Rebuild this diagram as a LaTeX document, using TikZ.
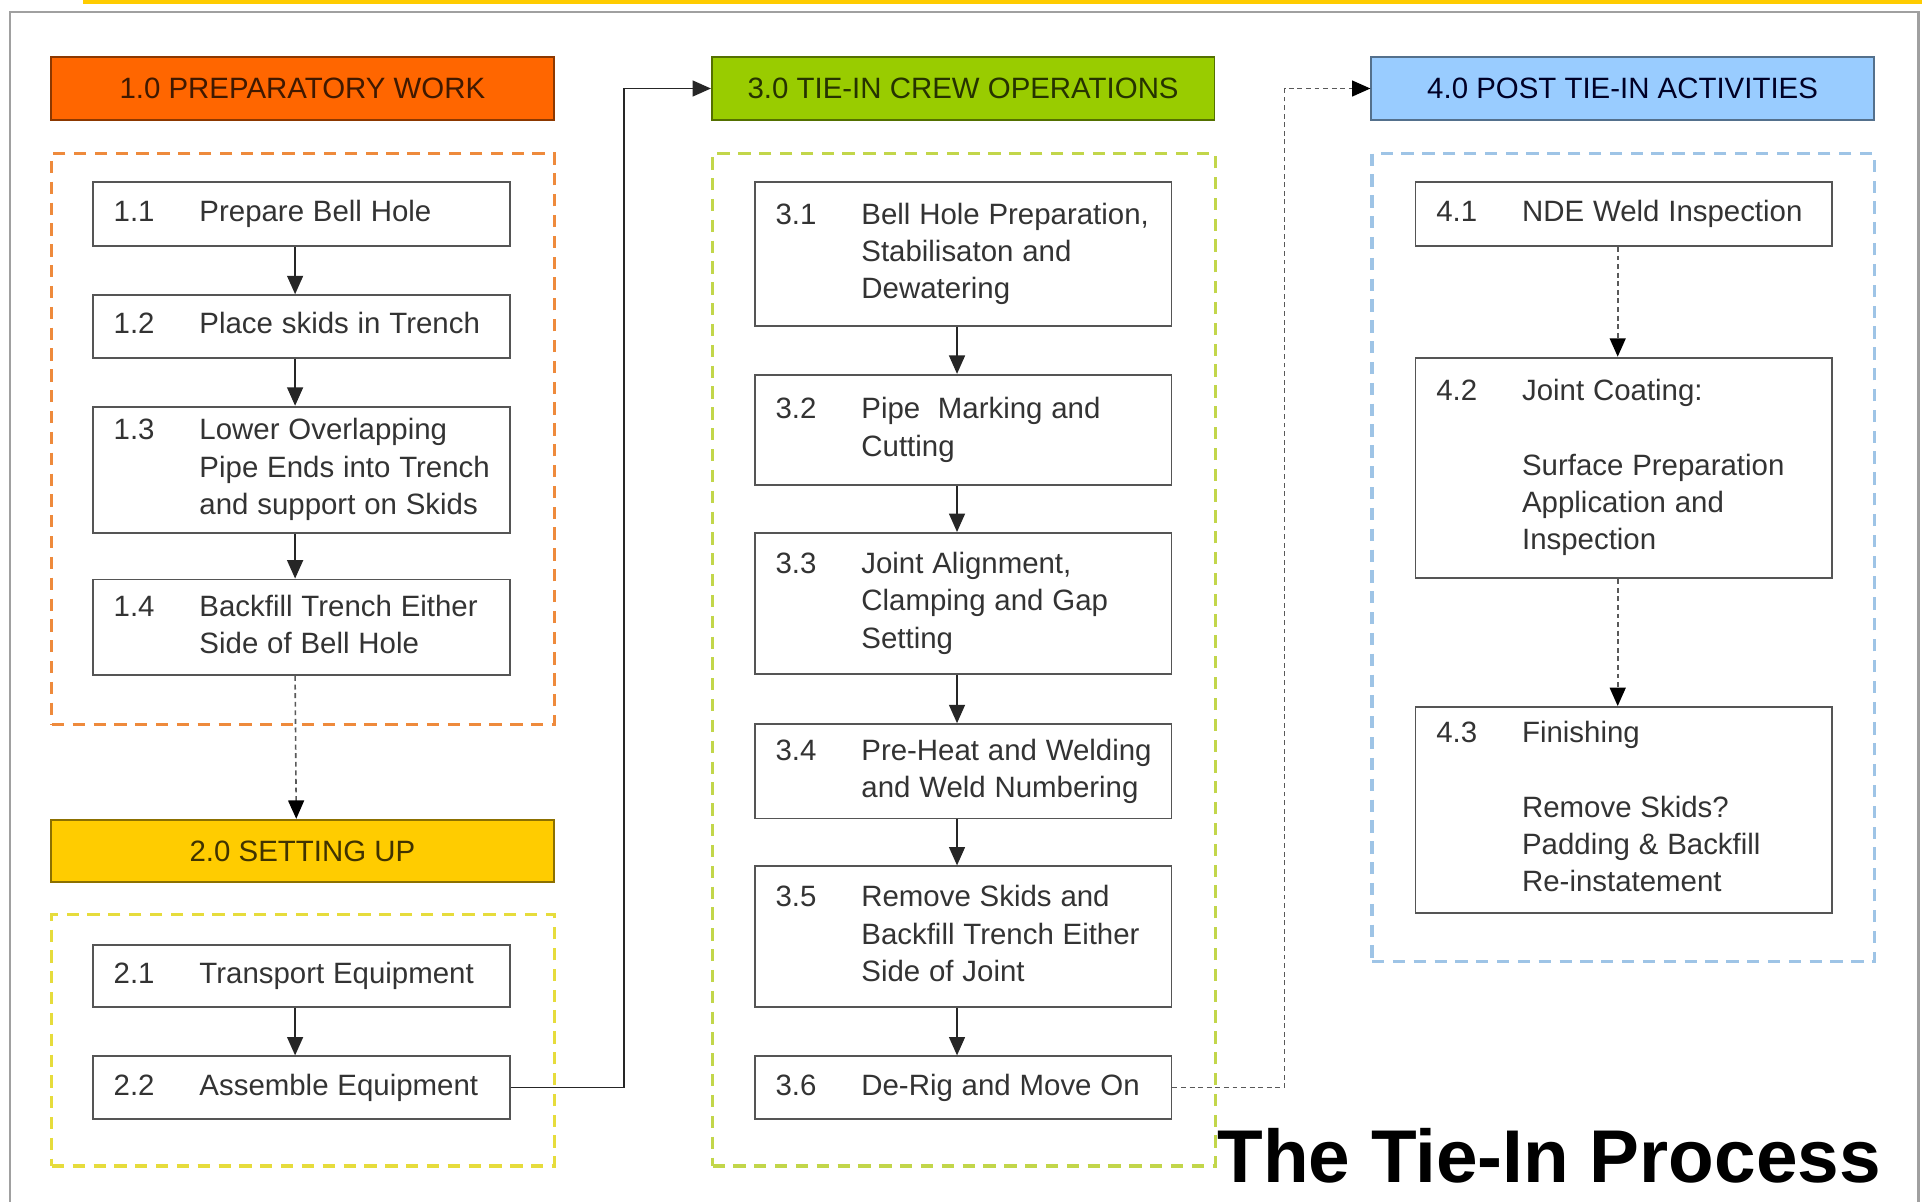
\documentclass[tikz,border=0pt]{standalone}
\usepackage{fontspec}
\setmainfont{Liberation Sans}
\usetikzlibrary{arrows.meta}
\definecolor{hdrorange}{HTML}{FF6600}
\definecolor{hdrgold}{HTML}{FFCC00}
\definecolor{hdrgreen}{HTML}{99CC00}
\definecolor{hdrblue}{HTML}{99CCFF}
\definecolor{dashorange}{HTML}{EE8A3C}
\definecolor{dashyellow}{HTML}{E6DC3C}
\definecolor{dashgreen}{HTML}{C2D64A}
\definecolor{dashblue}{HTML}{9EC4E6}
\definecolor{boxline}{HTML}{555555}
\definecolor{boxtext}{HTML}{333333}
\definecolor{framegray}{HTML}{A0A0A0}
\newcommand{\steptext}[2]{{\fontsize{24}{30.4}\selectfont\spaceskip=0.3em plus 0.1em minus 0.05em\relax\color{boxtext}\begin{tabular}{@{}p{70pt}@{}l@{}}#1 & #2\end{tabular}}}
\tikzset{
  header/.style={draw=#1!55!black, line width=1.4pt, minimum width=410pt, minimum height=51pt, anchor=north west, inner sep=0pt, font=\fontsize{24}{28}\selectfont, text=#1!25!black},
  groupbox/.style={draw=#1, line width=2.6pt, dash pattern=on 10pt off 7pt, anchor=north west, inner sep=0pt},
  stepbox/.style={draw=boxline, line width=1.5pt, fill=white, anchor=north west, inner xsep=17pt, inner ysep=0pt, text width=306pt, align=left},
  solidarr/.style={line width=1.3pt, draw=black!85, -{Triangle[length=15pt,width=13pt]}},
  dasharr/.style={line width=1.3pt, draw=black!65, dash pattern=on 4pt off 3pt, -{Triangle[length=15pt,width=13pt,color=black]}}
}
\begin{document}
\begin{tikzpicture}[x=1pt,y=-1pt]
\useasboundingbox (0,0) rectangle (1568,980);
\fill[white] (0,0) rectangle (1568,980);
% frame
\fill[hdrgold] (68,0) rectangle (1568,3);
\draw[framegray, line width=2pt] (8,982) -- (8,10) -- (1565,10) -- (1565,982);
% group dashed boxes
\node[groupbox=dashorange, minimum width=410pt, minimum height=466pt] (g1) at (41,124) {};
\node[groupbox=dashyellow, minimum width=410pt, minimum height=205pt] (g2) at (41,745) {};
\node[groupbox=dashgreen, minimum width=410pt, minimum height=826pt] (g3) at (580,124) {};
\node[groupbox=dashblue, minimum width=410pt, minimum height=659pt] (g4) at (1118,124) {};
% headers
\node[header=hdrorange, fill=hdrorange] (h1) at (41,46) {1.0 PREPARATORY WORK};
\node[header=hdrgold, fill=hdrgold] (h2) at (41,668) {2.0 SETTING UP};
\node[header=hdrgreen, fill=hdrgreen] (h3) at (580,46) {3.0 TIE-IN CREW OPERATIONS};
\node[header=hdrblue, fill=hdrblue, text=black!85!blue] (h4) at (1118,46) {4.0 POST TIE-IN ACTIVITIES};
% column 1
\node[stepbox, minimum height=52pt] (s11) at (75,148) {\steptext{1.1}{Prepare Bell Hole}};
\node[stepbox, minimum height=51pt] (s12) at (75,240) {\steptext{1.2}{Place skids in Trench}};
\node[stepbox, minimum height=103pt] (s13) at (75,331) {\steptext{1.3}{Lower Overlapping\\ & Pipe Ends into Trench\\ & and support on Skids}};
\node[stepbox, minimum height=78pt] (s14) at (75,472) {\steptext{1.4}{Backfill Trench Either\\ & Side of Bell Hole}};
% column 2
\node[stepbox, minimum height=51pt] (s21) at (75,770) {\steptext{2.1}{Transport Equipment}};
\node[stepbox, minimum height=51pt] (s22) at (75,861) {\steptext{2.2}{Assemble Equipment}};
% column 3
\node[stepbox, minimum height=117pt] (s31) at (615,148) {\steptext{3.1}{Bell Hole Preparation,\\ & Stabilisaton and\\ & Dewatering}};
\node[stepbox, minimum height=90pt] (s32) at (615,305) {\steptext{3.2}{Pipe\ \ Marking and\\ & Cutting}};
\node[stepbox, minimum height=115pt] (s33) at (615,434) {\steptext{3.3}{Joint Alignment,\\ & Clamping and Gap\\ & Setting}};
\node[stepbox, minimum height=77pt] (s34) at (615,590) {\steptext{3.4}{Pre-Heat and Welding\\ & and Weld Numbering}};
\node[stepbox, minimum height=115pt] (s35) at (615,706) {\steptext{3.5}{Remove Skids and\\ & Backfill Trench Either\\ & Side of Joint}};
\node[stepbox, minimum height=51pt] (s36) at (615,861) {\steptext{3.6}{De-Rig and Move On}};
% column 4
\node[stepbox, minimum height=52pt] (s41) at (1154,148) {\steptext{4.1}{NDE Weld Inspection}};
\node[stepbox, minimum height=180pt] (s42) at (1154,291) {\steptext{4.2}{Joint Coating:\\ & \\ & Surface Preparation\\ & Application and\\ & Inspection}};
\node[stepbox, minimum height=168pt] (s43) at (1154,576) {\steptext{4.3}{Finishing\\ & \\ & Remove Skids?\\ & Padding \& Backfill\\ & Re-instatement}};
% connectors
\draw[solidarr] ([xshift=-5pt]s11.south) -- ([xshift=-5pt]s12.north);
\draw[solidarr] ([xshift=-5pt]s12.south) -- ([xshift=-5pt]s13.north);
\draw[solidarr] ([xshift=-5pt]s13.south) -- ([xshift=-5pt]s14.north);
\draw[dasharr] ([xshift=-5pt]s14.south) -- ([xshift=-5pt]h2.north);
\draw[solidarr] ([xshift=-5pt]s21.south) -- ([xshift=-5pt]s22.north);
\coordinate (k1) at (509,885);
\draw[solidarr] (s22.east) -- (s22.east -| k1) |- (h3.west);
\draw[solidarr] ([xshift=-5pt]s31.south) -- ([xshift=-5pt]s32.north);
\draw[solidarr] ([xshift=-5pt]s32.south) -- ([xshift=-5pt]s33.north);
\draw[solidarr] ([xshift=-5pt]s33.south) -- ([xshift=-5pt]s34.north);
\draw[solidarr] ([xshift=-5pt]s34.south) -- ([xshift=-5pt]s35.north);
\draw[solidarr] ([xshift=-5pt]s35.south) -- ([xshift=-5pt]s36.north);
\coordinate (k2) at (1048,885);
\draw[dasharr] (s36.east) -- (s36.east -| k2) |- (h4.west);
\draw[dasharr] ([xshift=-5pt]s41.south) -- ([xshift=-5pt]s42.north);
\draw[dasharr] ([xshift=-5pt]s42.south) -- ([xshift=-5pt]s43.north);
% title
\node[anchor=base west, inner sep=0pt, font=\fontsize{61}{70}\selectfont\bfseries] (title) at (993,965) {The Tie-In Process};
\end{tikzpicture}
\end{document}
